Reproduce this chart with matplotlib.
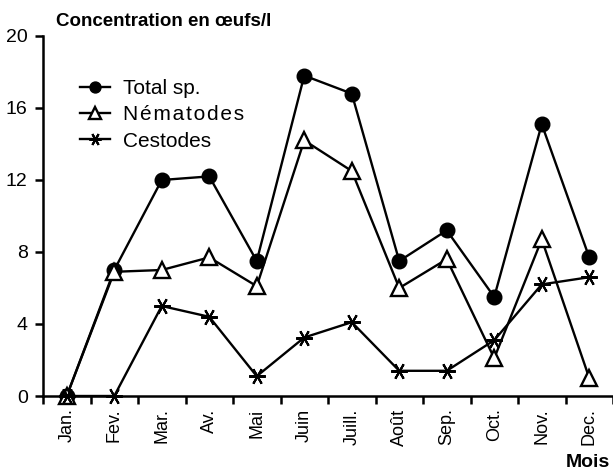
import numpy as np
import matplotlib
matplotlib.use("Agg")
import matplotlib.pyplot as plt

plt.rcParams['font.family'] = ['Liberation Sans', 'DejaVu Sans']

mois = ["Jan.", "Fev.", "Mar.", "Av.", "Mai", "Juin", "Juill.", "Août",
        "Sep.", "Oct.", "Nov.", "Dec."]
total = [0, 7.0, 12.0, 12.2, 7.5, 17.8, 16.8, 7.5, 9.2, 5.5, 15.1, 7.7]
nematodes = [0, 6.9, 7.0, 7.7, 6.1, 14.2, 12.5, 6.0, 7.6, 2.1, 8.7, 1.0]
cestodes = [0, 0, 5.0, 4.4, 1.1, 3.25, 4.1, 1.4, 1.4, 3.1, 6.2, 6.6]

fig = plt.figure(figsize=(6.13, 4.73), dpi=100)
ax = fig.add_axes([43 / 613, 77 / 473, 570 / 613, 360 / 473])

x = np.arange(len(mois))
lw = 1.7
# hair spaces to mimic the letter-spaced legend entry
nem_label = '\u200a'.join('Nématodes')
ax.plot(x, total, color='black', lw=lw, marker='o', ms=10.5,
        label='Total sp.', clip_on=False, zorder=3)
ax.plot(x, nematodes, color='black', lw=lw, marker='^', ms=11, mfc='white',
        mew=1.7, label=nem_label, clip_on=False, zorder=3)
ax.plot(x, cestodes, color='black', lw=lw, marker=(6, 2, 90), ms=12,
        mew=1.5, label='Cestodes', clip_on=False, zorder=3)

ax.set_xlim(-0.5, len(mois) - 0.5)
ax.set_ylim(0, 20)
ax.set_yticks(np.arange(0, 21, 4))
ax.set_xticks(x)
ax.set_xticklabels(mois, rotation=90)
ax.set_xticks(np.arange(-0.5, len(mois), 1), minor=True)

for s in ['top', 'right']:
    ax.spines[s].set_visible(False)
for s in ['left', 'bottom']:
    ax.spines[s].set_linewidth(1.8)

ax.tick_params(axis='y', direction='out', length=6, width=1.8, labelsize=14,
               pad=5)
ax.tick_params(axis='x', which='major', length=0, labelsize=13, pad=9)
ax.tick_params(axis='x', which='minor', direction='out', length=6, width=1.8)

ax.legend(loc='upper left', bbox_to_anchor=(37 / 570, 0.88), frameon=False,
          fontsize=15, handlelength=1.45, handletextpad=0.62, labelspacing=0.35,
          borderpad=0, borderaxespad=0, markerscale=0.75)

fig.text(56 / 613, 1 - 21 / 473, "Concentration en œufs/l", fontsize=13.5,
         fontweight='bold', va='center', ha='left')
fig.text(0.995, 1 - 462 / 473, "Mois", fontsize=14, fontweight='bold',
         va='center', ha='right')

fig.savefig("out.png", dpi=100)
